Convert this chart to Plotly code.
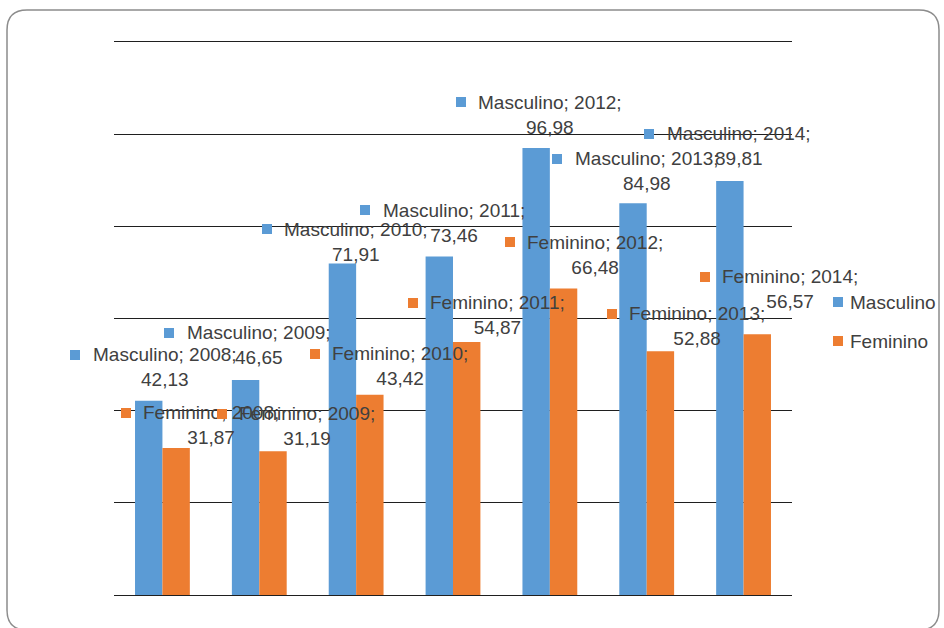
import plotly.graph_objects as go

# ---- data -------------------------------------------------------------
years = ["2008", "2009", "2010", "2011", "2012", "2013", "2014"]
masculino = [42.13, 46.65, 71.91, 73.46, 96.98, 84.98, 89.81]
feminino = [31.87, 31.19, 43.42, 54.87, 66.48, 52.88, 56.57]
series_names = ["Masculino", "Feminino"]

# ---- label placement (pixel offsets from the top centre of each bar) ---
masc_label_dx = [16, 13, 14, 15, 14, 13.5, 9]
masc_label_dy = [-33.5, -34.5, -21.6, -33.5, -33, -32, -34.6]
fem_label_dx = [35, 34, 30, 31, 31.4, 36.6, 33]
fem_label_dy = [-23, -25, -28.4, -27, -34, -25, -45]

# ---- geometry / style -------------------------------------------------
W, H = 944, 628
ML, MR, MT, MB = 114, 152, 40, 33
PLOT_W = W - ML - MR
PLOT_H = H - MT - MB
Y_MAX = 120.4          # a little headroom so the 120 gridline is drawn
BARGAP = 0.434
CAT_W = PLOT_W / len(years)
BAR_OFF = (1 - BARGAP) * CAT_W / 4  # distance from category centre to bar centre

BLUE = "#5B9BD5"
ORANGE = "#ED7D31"
TEXT = "#404040"
GRID = "#1f1f1f"
FONT = "Liberation Sans"
FSIZE = 19
LINE_GAP = 12.5       # half the distance between the two label lines
KEY = 10              # size of the coloured key squares
TEXT_W = {"Masculino": 145, "Feminino": 136}


def px_x(p):
    return (p - ML) / PLOT_W


def px_y(p):
    return (H - MB - p) / PLOT_H


def fmt(v):
    return f"{v:.2f}".replace(".", ",")


def key_square(color, **pos):
    # small filled box used as the colour key in front of a label
    return dict(text="", showarrow=False, width=KEY, height=KEY,
                bgcolor=color, borderpad=0, borderwidth=0,
                xanchor="center", yanchor="middle",
                font=dict(size=1, color=color), **pos)


fig = go.Figure()
fig.add_trace(go.Bar(x=years, y=masculino, name=series_names[0],
                     marker=dict(color=BLUE, line=dict(width=0)), showlegend=False))
fig.add_trace(go.Bar(x=years, y=feminino, name=series_names[1],
                     marker=dict(color=ORANGE, line=dict(width=0)), showlegend=False))

annotations = []
shapes = []

series = [
    (series_names[0], masculino, masc_label_dx, masc_label_dy, -BAR_OFF, BLUE),
    (series_names[1], feminino, fem_label_dx, fem_label_dy, BAR_OFF, ORANGE),
]
for name, vals, dxs, dys, off, color in series:
    for i, (yr, v, dx, dy) in enumerate(zip(years, vals, dxs, dys)):
        cx = off + dx
        cy = -dy
        annotations.append(dict(
            x=i, y=v, xref="x", yref="y",
            text=f"{name}; {yr};<br>{fmt(v)}",
            showarrow=False, xanchor="center", yanchor="middle",
            xshift=cx, yshift=cy, align="center",
            font=dict(family=FONT, size=FSIZE, color=TEXT),
        ))
        annotations.append(key_square(
            color, x=i, y=v, xref="x", yref="y",
            xshift=cx - TEXT_W[name] / 2 - 17, yshift=cy + LINE_GAP,
        ))

# legend drawn at the right of the plot
for name, color, ly in [(series_names[0], BLUE, 302), (series_names[1], ORANGE, 341)]:
    annotations.append(key_square(color, x=px_x(838), y=px_y(ly),
                                  xref="paper", yref="paper"))
    annotations.append(dict(
        x=px_x(848), y=px_y(ly), xref="paper", yref="paper",
        text=name, showarrow=False, xanchor="left", yanchor="middle",
        font=dict(family=FONT, size=FSIZE, color=TEXT),
    ))

# rounded frame around the chart
l, r, t, b, rad = 7, 939, 10, 630, 20
frame = (
    f"M {px_x(l)},{px_y(t + rad)} Q {px_x(l)},{px_y(t)} {px_x(l + rad)},{px_y(t)} "
    f"L {px_x(r - rad)},{px_y(t)} Q {px_x(r)},{px_y(t)} {px_x(r)},{px_y(t + rad)} "
    f"L {px_x(r)},{px_y(b - rad)} Q {px_x(r)},{px_y(b)} {px_x(r - rad)},{px_y(b)} "
    f"L {px_x(l + rad)},{px_y(b)} Q {px_x(l)},{px_y(b)} {px_x(l)},{px_y(b - rad)} Z"
)
shapes.append(dict(type="path", xref="paper", yref="paper", path=frame,
                   line=dict(color="#8c8c8c", width=1.5), layer="below"))

fig.update_layout(
    width=W, height=H,
    margin=dict(l=ML, r=MR, t=MT, b=MB, pad=0),
    paper_bgcolor="white", plot_bgcolor="white",
    barmode="group", bargap=BARGAP, bargroupgap=0,
    xaxis=dict(type="category", range=[-0.5, len(years) - 0.5], autorange=False,
               showticklabels=False, ticks="",
               showgrid=False, zeroline=False, showline=False),
    yaxis=dict(range=[0, Y_MAX], tick0=0, dtick=20, autorange=False,
               showticklabels=False, ticks="",
               showgrid=True, gridcolor=GRID, gridwidth=1,
               zeroline=True, zerolinecolor=GRID, zerolinewidth=1, showline=False),
    annotations=annotations,
    shapes=shapes,
    font=dict(family=FONT, size=FSIZE, color=TEXT),
)

fig.write_html("out.html")
